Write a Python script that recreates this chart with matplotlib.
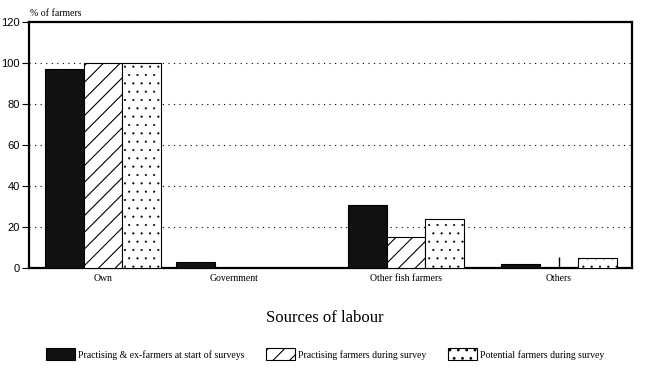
import matplotlib.pyplot as plt
from matplotlib.patches import Patch
import numpy as np

# Data
categories = ["Own", "Government", "Other fish farmers", "Others"]
start_of_surveys = [97, 3, 31, 2]
practising_now = [100, 0, 15, 0]
potential_now = [100, 0, 24, 5]

series_labels = [
    "Practising & ex-farmers at start of surveys",
    "Practising farmers during survey",
    "Potential farmers during survey",
]
y_ticks = [0, 20, 40, 60, 80, 100, 120]

# layout (group centres, in axis units)
centres = np.array([103, 234, 406, 559])
width = 38.5

plt.rcParams["hatch.linewidth"] = 0.8
serif = "Liberation Serif"
sans = "Liberation Sans"

fig = plt.figure(figsize=(6.5, 3.75), dpi=100)
ax = fig.add_axes([0.045, 0.285, 0.927, 0.656])

ax.bar(centres - width, start_of_surveys, width, color="#111111",
       edgecolor="black", linewidth=0.8, zorder=3)
ax.bar(centres, practising_now, width, color="white", hatch="//",
       edgecolor="black", linewidth=0.8, zorder=3)
# thin, sparse dots for the stippled series
with plt.rc_context({"hatch.linewidth": 0.3}):
    ax.bar(centres + width, potential_now, width, color="white", hatch="..",
           edgecolor="black", linewidth=0.8, zorder=3)
    dot_handle = Patch(facecolor="white", edgecolor="black", hatch="..",
                       linewidth=0.8)

ax.set_xlim(29, 632)
ax.set_ylim(0, 120)
ax.set_yticks(y_ticks)
ax.set_yticklabels([str(v) for v in y_ticks], fontfamily=sans, fontsize=8)
ax.yaxis.grid(True, linestyle=(0, (1, 4)), color="black", linewidth=0.8)
ax.set_axisbelow(True)
ax.tick_params(axis="y", direction="out", length=5, width=0.8, pad=2)

ax.set_xticks(centres)
ax.set_xticklabels(categories, fontfamily=serif, fontsize=7)
ax.tick_params(axis="x", direction="in", length=8, width=1, pad=4)
# the Government tick is hidden behind its bar in the original
ax.xaxis.get_major_ticks()[1].tick1line.set_visible(False)

for s in ax.spines.values():
    s.set_linewidth(1.6)

fig.text(0.046, 0.965, "% of farmers", fontfamily=serif, fontsize=7,
         ha="left", va="center")
fig.text(0.5, 0.152, "Sources of labour", fontfamily=serif, fontsize=12,
         ha="center", va="center")

handles = [
    Patch(facecolor="#111111", edgecolor="black", linewidth=0.8),
    Patch(facecolor="white", edgecolor="black", hatch="//", linewidth=0.8),
    dot_handle,
]
fig.legend(handles, series_labels, loc="center", bbox_to_anchor=(0.5, 0.055),
           ncol=3, frameon=False, prop={"family": serif, "size": 7},
           handlelength=3.0, handleheight=1.5, handletextpad=0.3,
           columnspacing=2.2)

fig.savefig("out.png", dpi=100)
